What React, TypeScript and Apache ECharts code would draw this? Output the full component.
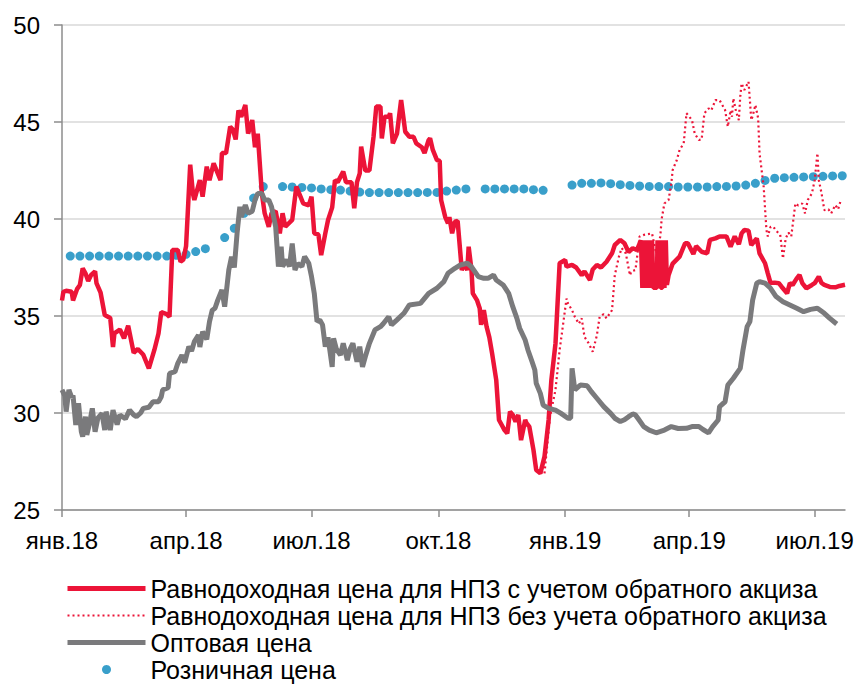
import React, { useEffect, useRef } from "react";
import * as echarts from "echarts";

// x values are days since 2018-01-01
const xTickDays = [0, 90, 181, 273, 365, 455, 546];
const xTickLabels = ["янв.18", "апр.18", "июл.18", "окт.18", "янв.19", "апр.19", "июл.19"];

const seriesNames = [
  "Равнодоходная цена для НПЗ с учетом обратного акциза",
  "Равнодоходная цена для НПЗ без учета обратного акциза",
  "Оптовая цена",
  "Розничная цена",
];

const withExciseDays = [0, 1, 3, 7, 8, 11, 13, 15, 17, 19, 21, 24, 25, 28, 31, 35, 37, 38, 42, 45, 48, 52, 55, 59, 63, 67, 70, 72, 76, 78, 80, 84, 86, 88, 90, 93, 95, 96, 100, 102, 105, 107, 110, 115, 116, 119, 122, 124, 126, 128, 130, 133, 135, 138, 140, 142, 145, 147, 150, 152, 155, 158, 160, 162, 167, 170, 173, 175, 179, 181, 183, 186, 188, 191, 193, 196, 198, 200, 204, 206, 210, 212, 214, 216, 217, 220, 223, 226, 228, 231, 232, 234, 237, 238, 240, 243, 246, 249, 252, 255, 257, 261, 263, 266, 267, 269, 272, 274, 275, 278, 280, 281, 283, 285, 287, 290, 292, 294, 295, 297, 298, 301, 303, 304, 306, 308, 310, 312, 315, 317, 319, 321, 323, 325, 327, 329, 331, 333, 336, 337, 339, 342, 344, 347, 350, 353, 355, 358, 361, 365, 366, 370, 373, 377, 379, 383, 385, 388, 391, 395, 399, 401, 405, 408, 411, 414, 417, 420, 421, 422, 423, 424, 425, 426, 427, 428, 429, 431.5, 432, 433, 433.7, 434.3, 435.5, 436, 437, 438, 438.8, 440, 443, 448, 452, 454, 458, 460, 464, 468, 470, 474, 477, 482, 485, 488, 491, 493, 495, 498, 500, 504, 506, 510, 512, 514, 517, 520, 522, 526, 528, 530, 533, 535, 537, 540, 544, 546, 549, 551, 553, 557, 561, 564, 568];
const withExciseValues = [35.8, 36.25, 36.3, 36.25, 35.8, 36.4, 36.6, 37.46, 37.2, 36.8, 37.1, 37.3, 36.7, 36.2, 35.05, 34.9, 33.4, 34.1, 34.3, 33.85, 34.5, 33.1, 33.3, 33.0, 32.3, 33.25, 34.1, 35.2, 35.1, 34.96, 38.4, 38.4, 37.8, 37.9, 38.6, 42.8, 41.3, 40.98, 42.0, 41.15, 42.7, 42.0, 42.87, 42.0, 43.4, 43.4, 44.76, 44.6, 44.1, 45.6, 45.27, 45.88, 44.4, 45.1, 43.7, 44.4, 41.3, 40.3, 39.6, 40.3, 40.4, 39.26, 40.3, 39.6, 39.95, 41.67, 41.15, 40.8, 40.7, 41.15, 39.26, 39.2, 38.14, 39.26, 39.95, 40.6, 42.0, 41.9, 42.44, 41.9, 41.9, 40.55, 41.9, 42.35, 43.73, 42.5, 42.5, 44.24, 45.8, 45.8, 44.15, 45.27, 45.27, 45.45, 43.9, 44.4, 46.13, 44.5, 44.24, 44.24, 43.9, 43.7, 43.4, 44.07, 44.16, 43.56, 43.04, 43.0, 40.98, 40.1, 39.78, 40.1, 39.26, 39.86, 39.9, 37.37, 37.7, 37.37, 38.57, 37.4, 36.17, 35.82, 35.4, 34.54, 35.3, 34.45, 33.9, 33.07, 31.7, 29.64, 29.38, 29.12, 28.95, 30.07, 29.9, 29.56, 29.9, 28.6, 29.64, 29.47, 29.3, 28.1, 27.06, 26.89, 27.75, 29.64, 31.7, 33.6, 37.72, 37.89, 37.54, 37.63, 37.5, 37.11, 37.3, 36.86, 37.4, 37.63, 37.5, 37.8, 38.23, 38.66, 38.92, 38.75, 38.3, 38.49, 38.4, 38.9, 36.45, 38.9, 36.45, 38.9, 36.45, 38.9, 36.45, 38.9, 36.45, 36.45, 38.9, 36.45, 38.9, 36.45, 36.45, 38.9, 36.45, 38.9, 36.6, 37.1, 37.7, 38.06, 38.75, 38.75, 38.2, 38.6, 38.31, 38.23, 38.92, 39.0, 39.1, 39.1, 38.57, 39.1, 38.7, 39.26, 39.43, 39.4, 38.66, 39.0, 38.23, 37.72, 37.2, 36.7, 36.72, 36.69, 36.51, 36.17, 36.69, 36.6, 36.94, 37.11, 36.7, 36.43, 36.6, 36.69, 37.03, 36.7, 36.6, 36.5, 36.48, 36.55, 36.61];

const withoutExciseDays = [350, 354, 358, 361, 366, 367, 370, 372, 375, 377, 379, 382, 385, 388, 390, 393, 395, 399, 401, 404, 406, 409, 412, 413, 416, 419, 422, 428, 431, 434, 435, 437, 440, 442, 443, 446, 448, 451, 453, 457, 459, 462, 464, 466, 469, 471, 474, 477, 481, 483, 485, 486, 487, 489, 491, 492, 493, 495, 498, 499, 500, 501, 503, 505, 506, 509, 511, 512, 514, 516, 518, 521, 523, 525, 527, 529, 532, 534, 537, 539, 541, 544, 546, 548, 549, 551, 553, 556, 558, 561, 563, 565, 568];
const withoutExciseValues = [26.89, 29.8, 31.2, 33.25, 35.9, 35.65, 35.3, 34.96, 34.6, 34.88, 33.93, 33.6, 33.16, 34.0, 34.96, 35.1, 34.88, 35.3, 37.1, 38.06, 38.5, 38.23, 37.1, 37.3, 37.37, 39.1, 39.18, 39.26, 38.23, 39.1, 40.0, 40.8, 40.98, 41.84, 42.53, 43.04, 43.56, 43.9, 45.45, 45.1, 44.4, 44.07, 44.1, 45.45, 45.7, 45.6, 46.13, 46.13, 45.62, 44.76, 45.6, 45.27, 46.22, 45.53, 45.1, 46.3, 46.99, 46.65, 47.08, 46.13, 45.1, 45.3, 45.88, 45.19, 43.39, 41.67, 39.43, 39.1, 39.6, 39.6, 39.4, 39.18, 37.97, 39.0, 39.3, 39.1, 40.8, 40.7, 40.8, 40.29, 40.98, 41.32, 42.0, 43.39, 42.0, 41.32, 40.46, 40.5, 40.29, 40.72, 40.5, 40.98];

const wholesaleDays = [0, 2, 3, 5, 7, 8, 10, 12, 14, 15, 17, 18, 20, 22, 24, 26, 29, 31, 32, 35, 37, 40, 42, 46, 49, 52, 54, 57, 59, 63, 66, 70, 72, 73, 77, 78, 82, 84, 87, 89, 92, 94, 96, 99, 100, 102, 105, 107, 109, 111, 113, 116, 118, 121, 123, 125, 127, 129, 130, 133, 135, 138, 140, 142, 145, 147, 150, 152, 155, 156, 157, 159, 160, 163, 165, 167, 169, 171, 174, 176, 179, 181, 183, 185, 187, 189, 191, 193, 196, 197, 199, 202, 204, 207, 209, 211, 214, 216, 218, 220, 223, 227, 231, 233, 237, 239, 243, 248, 252, 260, 266, 272, 277, 280, 285, 289, 294, 297, 302, 306, 309, 313, 315, 320, 324, 327, 330, 332, 336, 338, 341, 343, 344, 347, 349, 353, 358, 362, 367, 369, 370, 372, 376, 381, 384, 388, 393, 398, 401, 405, 408, 411, 414, 416, 418, 422, 426, 431, 437, 442, 447, 453, 457, 462, 465, 469, 472, 476, 477, 481, 483, 487, 492, 494, 497, 499, 501, 504, 506, 510, 514, 518, 523, 528, 533, 538, 543, 548, 553, 557, 562];
const wholesaleValues = [31.19, 30.9, 30.07, 31.19, 30.8, 30.9, 29.38, 30.5, 29.04, 28.78, 29.81, 28.87, 29.47, 30.24, 29.04, 29.73, 29.98, 29.12, 30.07, 29.12, 30.15, 29.4, 29.9, 29.7, 30.15, 29.9, 29.81, 30.0, 30.24, 30.3, 30.58, 30.58, 30.84, 31.19, 31.3, 32.04, 32.13, 32.56, 32.99, 32.6, 33.42, 33.2, 33.68, 34.02, 33.4, 34.19, 33.8, 34.71, 35.3, 35.4, 35.82, 36.34, 35.48, 37.37, 38.06, 37.5, 39.26, 40.63, 40.1, 40.72, 40.29, 40.4, 40.98, 41.32, 41.32, 40.98, 40.98, 40.63, 39.6, 38.57, 37.55, 38.57, 37.55, 37.9, 37.55, 38.74, 37.37, 37.7, 37.55, 38.06, 37.72, 37.03, 36.17, 34.71, 34.8, 34.54, 33.42, 33.9, 32.38, 33.85, 33.3, 32.99, 33.59, 32.73, 33.3, 33.59, 32.64, 33.42, 32.38, 32.9, 33.59, 34.28, 34.45, 34.6, 34.96, 34.54, 34.8, 35.14, 35.57, 35.65, 36.17, 36.43, 36.77, 37.2, 37.46, 37.63, 37.72, 37.54, 37.03, 36.94, 36.94, 37.11, 36.86, 36.6, 36.17, 35.48, 34.88, 34.37, 33.76, 33.25, 32.64, 32.22, 31.53, 31.01, 30.41, 30.24, 30.15, 29.98, 29.73, 29.73, 32.3, 31.19, 31.44, 31.4, 31.1, 30.76, 30.33, 29.98, 29.73, 29.56, 29.65, 29.81, 29.95, 29.9, 29.7, 29.3, 29.12, 28.98, 29.12, 29.3, 29.2, 29.21, 29.3, 29.3, 29.15, 28.98, 29.3, 29.64, 30.33, 30.58, 31.44, 31.79, 32.3, 33.25, 34.45, 34.71, 35.82, 36.69, 36.77, 36.69, 36.43, 36.0, 35.74, 35.57, 35.4, 35.22, 35.34, 35.4, 35.14, 34.88, 34.59];

// weekly retail price, first observation on day 6 (2018-01-07), null = no observation
const retailFirstDay = 6;
const retailStepDays = 7;
const retailValues = [38.09, 38.09, 38.09, 38.09, 38.09, 38.09, 38.09, 38.09, 38.09, 38.09, 38.09, 38.13, 38.18, 38.32, 38.47, null, 39.04, 39.52, 40.29, 41.08, 41.67, null, 41.67, 41.65, 41.63, 41.6, 41.55, 41.51, 41.49, 41.44, 41.39, 41.36, 41.36, 41.36, 41.36, 41.36, 41.36, 41.37, 41.37, 41.44, 41.49, 41.55, null, 41.55, 41.55, 41.55, 41.55, 41.55, 41.51, 41.48, null, null, 41.75, 41.84, 41.84, 41.86, 41.82, 41.77, 41.73, 41.7, 41.68, 41.67, 41.67, 41.65, 41.65, 41.65, 41.65, 41.67, 41.68, 41.7, 41.75, 41.84, 41.99, 42.1, 42.13, 42.15, 42.17, 42.18, 42.2, 42.22, 42.23];

const FONT = "'Liberation Sans', Arial, sans-serif";
const RED = "#ec1438";
const GREY = "#7a7a7c";
const BLUE = "#0887bd";

export default function App() {
  const ref = useRef<HTMLDivElement>(null);
  useEffect(() => {
    if (!ref.current) return;
    const chart = echarts.init(ref.current, undefined, { renderer: "svg" });
    const pair = (d: number[], v: (number | null)[]) => d.map((x, i) => [x, v[i]]);
    const retailData = retailValues.map((v, i) => [retailFirstDay + i * retailStepDays, v]);
    chart.setOption({
      animation: false,
      backgroundColor: "#fff",
      grid: { left: 62, right: 13, top: 25, bottom: 174, containLabel: false },
      xAxis: {
        type: "value",
        min: 0,
        max: 568,
        axisLine: { show: true, lineStyle: { color: "#8c8c8c", width: 1.5 } },
        axisTick: { show: true, length: 7, lineStyle: { color: "#8c8c8c", width: 1.5 }, customValues: xTickDays },
        axisLabel: {
          customValues: xTickDays,
          formatter: (v: number) => xTickLabels[xTickDays.indexOf(v)] ?? "",
          color: "#000",
          fontSize: 24,
          fontFamily: FONT,
          margin: 18,
          showMinLabel: true,
          showMaxLabel: true,
        },
        splitLine: { show: false },
      },
      yAxis: {
        type: "value",
        min: 25,
        max: 50,
        interval: 5,
        axisLine: { show: true, lineStyle: { color: "#8c8c8c", width: 1.5 } },
        axisTick: { show: true, length: 8, lineStyle: { color: "#8c8c8c", width: 1.5 } },
        axisLabel: { color: "#000", fontSize: 24, fontFamily: FONT, margin: 22 },
        splitLine: { show: true, lineStyle: { color: "#d9d9d9", width: 1.5 } },
      },
      legend: {
        orient: "vertical",
        left: 60,
        top: 571,
        height: 140,
        itemWidth: 78,
        itemHeight: 9,
        itemGap: 2,
        textStyle: { color: "#000", fontSize: 25, fontFamily: FONT },
        data: [
          { name: seriesNames[0], itemStyle: { opacity: 0 }, lineStyle: { width: 5 } },
          { name: seriesNames[1], itemStyle: { opacity: 0 }, lineStyle: { width: 2 } },
          { name: seriesNames[2], itemStyle: { opacity: 0 }, lineStyle: { width: 5 } },
          { name: seriesNames[3] },
        ],
      },
      series: [
        {
          name: seriesNames[0],
          type: "line",
          data: pair(withExciseDays, withExciseValues),
          symbol: "none",
          lineStyle: { color: RED, width: 4.5 },
          itemStyle: { color: RED },
        },
        {
          name: seriesNames[1],
          type: "line",
          data: pair(withoutExciseDays, withoutExciseValues),
          symbol: "none",
          lineStyle: { color: RED, width: 2.2, type: [2, 3] },
          itemStyle: { color: RED },
        },
        {
          name: seriesNames[2],
          type: "line",
          data: pair(wholesaleDays, wholesaleValues),
          symbol: "none",
          lineStyle: { color: GREY, width: 5 },
          itemStyle: { color: GREY },
        },
        {
          name: seriesNames[3],
          type: "scatter",
          data: retailData,
          symbol: "circle",
          symbolSize: 9,
          itemStyle: { color: BLUE },
        },
      ],
    });
    return () => chart.dispose();
  }, []);
  return <div ref={ref} style={{ width: 858, height: 684, position: "absolute", left: 0, top: 0 }} />;
}
